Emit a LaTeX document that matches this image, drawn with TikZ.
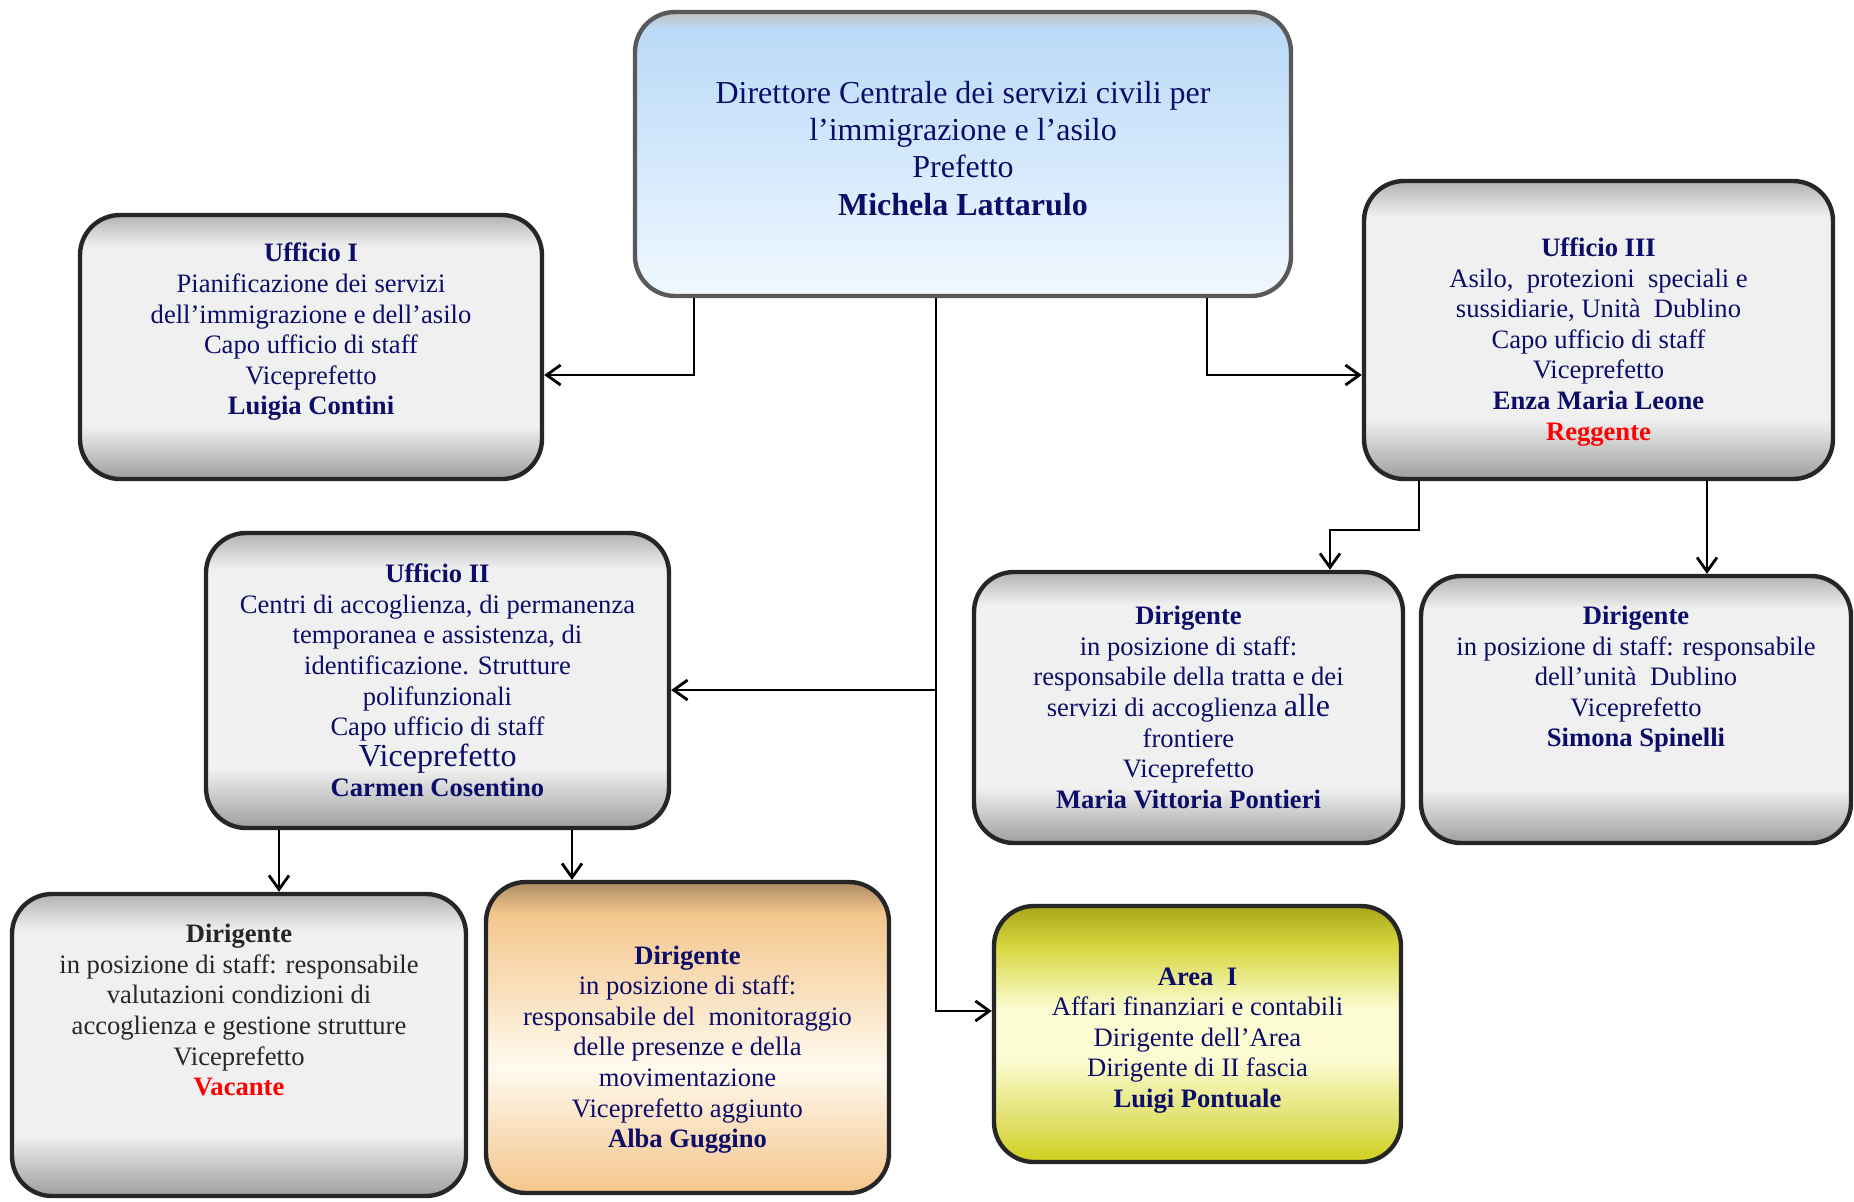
\documentclass[tikz,border=0pt]{standalone}
\usepackage{fontspec}
\setmainfont{Liberation Serif}
\usetikzlibrary{arrows.meta}

\definecolor{navy}{RGB}{12,12,105}
\definecolor{skytop}{RGB}{186,218,248}
\definecolor{skybot}{RGB}{240,248,255}
\definecolor{tan}{RGB}{244,198,140}
\definecolor{tanlight}{RGB}{255,250,238}
\definecolor{olive}{RGB}{208,208,30}
\definecolor{lemon}{RGB}{252,252,210}

% the path runs from 25bp (bottom) to 75bp (top)
\pgfdeclareverticalshading{grayglass}{100bp}{color(0bp)=(black!38); color(25bp)=(black!38);
  color(35bp)=(black!6); color(69bp)=(black!6); color(75bp)=(black!30); color(100bp)=(black!30)}
\pgfdeclareverticalshading{skyglass}{100bp}{color(0bp)=(skybot); color(25bp)=(skybot);
  color(72bp)=(skytop); color(75bp)=(black!25); color(100bp)=(black!25)}
\pgfdeclareverticalshading{tanglass}{100bp}{color(0bp)=(tan); color(25bp)=(tan);
  color(30bp)=(tan!80); color(45bp)=(tanlight); color(70bp)=(tan); color(75bp)=(tan!70!black); color(100bp)=(tan!70!black)}
\pgfdeclareverticalshading{lemonglass}{100bp}{color(0bp)=(olive); color(25bp)=(olive);
  color(32bp)=(olive!70); color(45bp)=(lemon); color(55bp)=(lemon); color(67bp)=(olive!85); color(75bp)=(olive!80!black); color(100bp)=(olive!80!black)}

\begin{document}
\begin{tikzpicture}[x=0.5pt,y=-0.5pt,
    box/.style={draw=black!85,line width=2.2pt,rounded corners=20pt,align=center,
      text=navy,font=\fontsize{13.3}{15.3}\selectfont,inner sep=0pt},
    graybox/.style={box,shading=grayglass},
    bluebox/.style={box,draw=black!65,shading=skyglass,font=\fontsize{16}{18.7}\selectfont},
    tanbox/.style={box,shading=tanglass},
    yellowbox/.style={box,shading=lemonglass},
    link/.style={line width=1.4pt,->},
    >={Straight Barb[length=7pt,width=10pt]}]

  \useasboundingbox (0,0) rectangle (1854,1201);

  \def\big{\fontsize{16}{18}\selectfont}

  \node[bluebox,minimum width=328pt,minimum height=142pt] (dirc) at (963,154)
    {Direttore Centrale dei servizi civili per\\ l’immigrazione e l’asilo\\ Prefetto\\
     \textbf{Michela Lattarulo}\\[-12.7pt]\mbox{}};

  \node[graybox,minimum width=231pt,minimum height=132pt] (uff1) at (311,347)
    {\textbf{Ufficio I}\\ Pianificazione dei servizi\\ dell’immigrazione e dell’asilo\\
     Capo ufficio di staff\\ Viceprefetto\\ \textbf{Luigia Contini}\\[2.7pt]\mbox{}};

  \node[graybox,minimum width=234.5pt,minimum height=149pt] (uff3) at (1598.5,330)
    {\mbox{}\\[6pt]\textbf{Ufficio III}\\ Asilo,\ \ protezioni\ \ speciali e\\
     sussidiarie, Unità\ \ Dublino\\ Capo ufficio di staff\\ Viceprefetto\\
     \textbf{Enza Maria Leone}\\ \textcolor{red}{\textbf{Reggente}}};

  \node[graybox,minimum width=231.5pt,minimum height=147.5pt] (uff2) at (437.5,680.5)
    {\textbf{Ufficio II}\\ Centri di accoglienza, di permanenza\\ temporanea e assistenza, di\\
     identificazione. Strutture\\ polifunzionali\\ Capo ufficio di staff\\
     {\big Viceprefetto}\\ \textbf{Carmen Cosentino}};

  \node[graybox,minimum width=214.5pt,minimum height=135.5pt] (pont) at (1188.5,707.5)
    {\textbf{Dirigente}\\ in posizione di staff:\\ responsabile della tratta e dei\\
     servizi di accoglienza {\big alle}\\ frontiere\\ Viceprefetto\\
     \textbf{Maria Vittoria Pontieri}};

  \node[graybox,minimum width=215pt,minimum height=133.5pt] (spin) at (1636,709.5)
    {\textbf{Dirigente}\\ in posizione di staff: responsabile\\ dell’unità\ \ Dublino\\
     Viceprefetto\\ \textbf{Simona Spinelli}\\[17.7pt]\mbox{}};

  \node[graybox,text=black!85,minimum width=227pt,minimum height=151pt] (vac) at (239,1045)
    {\textbf{Dirigente}\\ in posizione di staff: responsabile\\ valutazioni condizioni di\\
     accoglienza e gestione strutture\\ Viceprefetto\\ \textcolor{red}{\textbf{Vacante}}\\[19.7pt]\mbox{}};

  \node[tanbox,minimum width=201.5pt,minimum height=155.5pt] (gug) at (687.5,1037.5)
    {\mbox{}\\[6pt]\textbf{Dirigente}\\ in posizione di staff:\\ responsabile del\ \ monitoraggio\\
     delle presenze e della\\ movimentazione\\ Viceprefetto aggiunto\\ \textbf{Alba Guggino}};

  \node[yellowbox,minimum width=203.5pt,minimum height=128pt] (area) at (1197.5,1034)
    {\mbox{}\\[0pt]\textbf{Area\ \ I}\\ Affari finanziari e contabili\\ Dirigente dell’Area\\
     Dirigente di II fascia\\ \textbf{Luigi Pontuale}};

  % bends of the connectors
  \coordinate (k1) at (694,375);
  \coordinate (k2) at (1207,375);
  \coordinate (k3) at (936,690);
  \coordinate (k4) at (936,1011);
  \coordinate (k5) at (1419,530);
  \coordinate (k6) at (1330,530);
  \coordinate (k7) at (1707,530);
  \coordinate (k8) at (279,860);
  \coordinate (k9) at (572,860);

  \draw[link] (dirc.south -| k1) -- (k1) -- (k1 -| uff1.east);
  \draw[link] (dirc.south -| k2) -- (k2) -- (k2 -| uff3.west);
  \draw[link] (dirc.south -| k4) -- (k4) -- (k4 -| area.west);
  \draw[link] (k3) -- (k3 -| uff2.east);
  \draw[link] (uff3.south -| k5) -- (k5) -- (k6) -- (k6 |- pont.north);
  \draw[link] (uff3.south -| k7) -- (k7 |- spin.north);
  \draw[link] (uff2.south -| k8) -- (k8 |- vac.north);
  \draw[link] (uff2.south -| k9) -- (k9 |- gug.north);

\end{tikzpicture}
\end{document}
